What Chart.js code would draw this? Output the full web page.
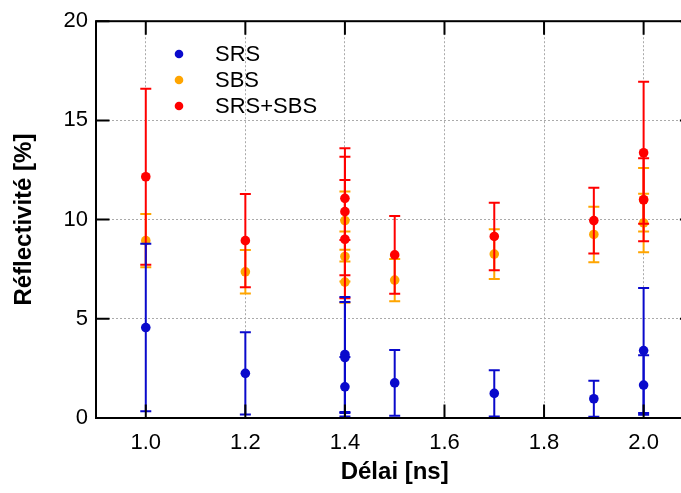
<!DOCTYPE html>
<html>
<head>
<meta charset="utf-8">
<script src="https://cdn.jsdelivr.net/npm/chart.js@4/dist/chart.umd.min.js"></script>
<style>
  html, body { margin: 0; padding: 0; background: #fff; overflow: hidden; width: 681px; height: 493px; }
  #wrap { width: 700px; height: 493px; }
  canvas { display: block; }
</style>
</head>
<body>
<div id="wrap"><canvas id="c" width="700" height="493"></canvas></div>
<script>
// ---- Data ----
const xTicks = [1.0, 1.2, 1.4, 1.6, 1.8, 2.0];
const yTicks = [0, 5, 10, 15, 20];

const seriesNames = ['SRS', 'SBS', 'SRS+SBS'];

const delays = [1.0, 1.2, 1.4, 1.4, 1.4, 1.5, 1.7, 1.9, 2.0, 2.0];

const srsValues   = [4.56, 2.25, 3.20, 3.05, 1.57, 1.77, 1.24, 0.97, 3.40, 1.66];
const srsErrors   = [4.22, 2.07, 2.90, 2.80, 1.50, 1.66, 1.17, 0.91, 3.15, 1.50];

const sbsValues   = [8.94, 7.37, 9.95, 8.14, 6.85, 6.95, 8.26, 9.25, 11.00, 9.83];
const sbsErrors   = [1.34, 1.10, 1.47, 1.26, 1.04, 1.07, 1.25, 1.40, 1.60, 1.47];

const totValues   = [12.16, 8.94, 11.07, 10.40, 9.01, 8.22, 9.15, 9.95, 13.37, 11.00];
const totErrors   = [4.44, 2.35, 2.10, 3.20, 2.98, 1.96, 1.70, 1.66, 3.58, 2.09];

const xTitle = 'Délai [ns]';
const yTitle = 'Réflectivité [%]';

// ---- Styles ----
const colors = ['#0A0ACC', '#FFA500', '#FF0000'];
const FONT = "'Liberation Sans', Arial, sans-serif";

function pts(vals) { return vals.map((v, i) => ({ x: delays[i], y: v })); }

const datasets = [
  { label: seriesNames[0], data: pts(srsValues), errors: srsErrors, order: 0 },
  { label: seriesNames[1], data: pts(sbsValues), errors: sbsErrors, order: 2 },
  { label: seriesNames[2], data: pts(totValues), errors: totErrors, order: 1 }
].map((d, i) => Object.assign(d, {
  backgroundColor: colors[i], borderColor: colors[i],
  pointRadius: 4.8, pointBorderWidth: 0, showLine: false
}));

const errorBars = {
  id: 'errorBars',
  beforeDatasetDraw(chart, args) {
    const ds = chart.data.datasets[args.index];
    const xs = chart.scales.x, ys = chart.scales.y, c = chart.ctx;
    c.save();
    c.strokeStyle = ds.borderColor;
    c.lineWidth = 2;
    const cap = 5.5;
    ds.data.forEach((p, i) => {
      const e = ds.errors[i];
      const px = xs.getPixelForValue(p.x);
      const t = ys.getPixelForValue(p.y + e);
      const b = ys.getPixelForValue(Math.max(0, p.y - e));
      c.beginPath();
      c.moveTo(px, t); c.lineTo(px, b);
      c.moveTo(px - cap, t); c.lineTo(px + cap, t);
      c.moveTo(px - cap, b); c.lineTo(px + cap, b);
      c.stroke();
    });
    c.restore();
  }
};

const frame = {
  id: 'frame',
  afterDraw(chart) {
    const a = chart.chartArea, c = chart.ctx;
    const xs = chart.scales.x, ys = chart.scales.y;
    const tl = 13.5;
    c.save();
    c.strokeStyle = '#000';
    c.lineWidth = 2;
    c.lineCap = 'butt';
    c.beginPath();
    xs.ticks.forEach(t => {
      const px = xs.getPixelForValue(t.value);
      c.moveTo(px, a.bottom); c.lineTo(px, a.bottom - tl);
      c.moveTo(px, a.top); c.lineTo(px, a.top + tl);
    });
    ys.ticks.forEach(t => {
      const py = ys.getPixelForValue(t.value);
      c.moveTo(a.left, py); c.lineTo(a.left + tl, py);
      c.moveTo(a.right, py); c.lineTo(a.right - tl, py);
    });
    c.stroke();
    c.strokeRect(a.left, a.top, a.right - a.left, a.bottom - a.top);

    // legend
    c.textBaseline = 'middle';
    c.textAlign = 'left';
    c.font = '22px ' + FONT;
    chart.data.datasets.forEach((ds, i) => {
      const y = 54 + 26 * i;
      c.fillStyle = ds.backgroundColor;
      c.beginPath(); c.arc(179, y, 4.3, 0, Math.PI * 2); c.fill();
      c.fillStyle = '#000';
      c.fillText(ds.label, 215, y + 1);
    });

    // axis titles
    c.font = 'bold 24px ' + FONT;
    c.textAlign = 'center';
    c.fillText(xTitle, (a.left + a.right) / 2, 472);
    c.translate(24, (a.top + a.bottom) / 2);
    c.rotate(-Math.PI / 2);
    c.fillText(yTitle, 0, 0);
    c.restore();
  }
};

new Chart(document.getElementById('c'), {
  type: 'scatter',
  data: { datasets },
  options: {
    responsive: false,
    animation: false,
    layout: { padding: { top: 21, right: 6.6, left: 0, bottom: 0 } },
    plugins: { legend: { display: false }, tooltip: { enabled: false } },
    scales: {
      x: {
        type: 'linear', min: 0.9, max: 2.1,
        afterBuildTicks: s => { s.ticks = xTicks.map(v => ({ value: v })); },
        afterFit: s => { s.height = 75; },
        ticks: { font: { family: FONT, size: 22 }, color: '#000', padding: 12,
                 maxRotation: 0, callback: v => Number(v).toFixed(1) },
        grid: { color: '#aaaaaa', lineWidth: 1, drawTicks: false },
        border: { display: false, dash: [2, 2] }
      },
      y: {
        type: 'linear', min: 0, max: 20,
        afterBuildTicks: s => { s.ticks = yTicks.map(v => ({ value: v })); },
        afterFit: s => { s.width = 96; },
        ticks: { font: { family: FONT, size: 22 }, color: '#000', padding: 8,
                 callback: v => String(v) },
        grid: { color: '#aaaaaa', lineWidth: 1, drawTicks: false },
        border: { display: false, dash: [2, 2] }
      }
    }
  },
  plugins: [errorBars, frame]
});
</script>
</body>
</html>
